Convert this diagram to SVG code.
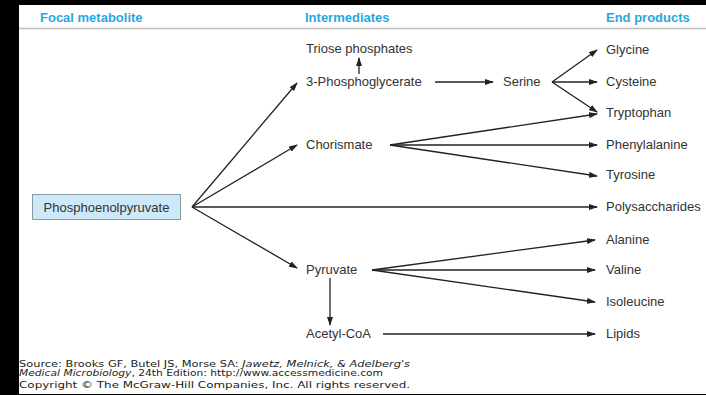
<svg xmlns="http://www.w3.org/2000/svg" width="706" height="395" viewBox="0 0 706 395">
  <style>
    .hdr { font-family: "Liberation Sans", Arial, sans-serif; font-size: 13px; font-weight: bold; fill: #2aa7df; }
    .lbl { font-family: "Liberation Sans", Arial, sans-serif; font-size: 13px; fill: #333; }
    .src { font-family: "DejaVu Sans", Verdana, sans-serif; font-size: 8px; fill: #222; }
    .arr { stroke: #222; stroke-width: 1.3; fill: none; marker-end: url(#head); }
  </style>
  <defs>
    <marker id="head" markerUnits="userSpaceOnUse" markerWidth="9" markerHeight="6" refX="8" refY="3" orient="auto">
      <path d="M0,0 L9,3 L0,6 Z" fill="#222"/>
    </marker>
  </defs>

  <!-- frame -->
  <rect x="0" y="0" width="706" height="395" fill="#000"/>
  <rect x="19" y="5" width="687" height="389" fill="#fff"/>

  <!-- column headings -->
  <g id="headings">
    <text class="hdr" x="40" y="22">Focal metabolite</text>
    <text class="hdr" x="305" y="22">Intermediates</text>
    <text class="hdr" x="606" y="22">End products</text>
    <line x1="19" y1="28.5" x2="706" y2="28.5" stroke="#bdbdbd" stroke-width="1.5"/>
  </g>

  <!-- connectors -->
  <g id="connectors">
    <line class="arr" x1="192" y1="207" x2="297" y2="83"/>
    <line class="arr" x1="192" y1="207" x2="297" y2="145"/>
    <line class="arr" x1="192" y1="207" x2="597" y2="207"/>
    <line class="arr" x1="192" y1="207" x2="297" y2="268"/>
    <line class="arr" x1="359" y1="74" x2="359" y2="58"/>
    <line class="arr" x1="435" y1="82" x2="493" y2="82"/>
    <line class="arr" x1="552" y1="82" x2="597" y2="50"/>
    <line class="arr" x1="552" y1="82" x2="597" y2="82"/>
    <line class="arr" x1="552" y1="82" x2="597" y2="112"/>
    <line class="arr" x1="390" y1="145" x2="597" y2="114"/>
    <line class="arr" x1="390" y1="145" x2="597" y2="145"/>
    <line class="arr" x1="390" y1="145" x2="597" y2="176"/>
    <line class="arr" x1="372" y1="270" x2="595" y2="240"/>
    <line class="arr" x1="372" y1="270" x2="595" y2="270"/>
    <line class="arr" x1="372" y1="270" x2="595" y2="302"/>
    <line class="arr" x1="330" y1="278" x2="330" y2="325"/>
    <line class="arr" x1="383" y1="334" x2="595" y2="334"/>
  </g>

  <!-- focal metabolite -->
  <g id="pep">
    <rect x="32.5" y="194.5" width="148" height="25" fill="#cde9f8" stroke="#8a9aa4" stroke-width="1"/>
    <text class="lbl" x="106.5" y="211.5" text-anchor="middle">Phosphoenolpyruvate</text>
  </g>

  <!-- intermediates -->
  <g id="triose"><text class="lbl" x="306" y="53">Triose phosphates</text></g>
  <g id="pga"><text class="lbl" x="306" y="86">3-Phosphoglycerate</text></g>
  <g id="serine"><text class="lbl" x="503" y="86">Serine</text></g>
  <g id="chorismate"><text class="lbl" x="306" y="149">Chorismate</text></g>
  <g id="pyruvate"><text class="lbl" x="306" y="274">Pyruvate</text></g>
  <g id="acetylcoa"><text class="lbl" x="306" y="338">Acetyl-CoA</text></g>

  <!-- end products -->
  <g id="glycine"><text class="lbl" x="606" y="54">Glycine</text></g>
  <g id="cysteine"><text class="lbl" x="606" y="86">Cysteine</text></g>
  <g id="tryptophan"><text class="lbl" x="606" y="117">Tryptophan</text></g>
  <g id="phenylalanine"><text class="lbl" x="606" y="149">Phenylalanine</text></g>
  <g id="tyrosine"><text class="lbl" x="606" y="179">Tyrosine</text></g>
  <g id="polysaccharides"><text class="lbl" x="606" y="211">Polysaccharides</text></g>
  <g id="alanine"><text class="lbl" x="606" y="244">Alanine</text></g>
  <g id="valine"><text class="lbl" x="606" y="274">Valine</text></g>
  <g id="isoleucine"><text class="lbl" x="606" y="306">Isoleucine</text></g>
  <g id="lipids"><text class="lbl" x="606" y="338">Lipids</text></g>

  <!-- source line -->
  <g id="source">
    <text class="src" x="19" y="367" textLength="391" lengthAdjust="spacingAndGlyphs">Source: Brooks GF, Butel JS, Morse SA: <tspan font-style="italic">Jawetz, Melnick, &amp; Adelberg's</tspan></text>
    <text class="src" x="19" y="375.5" textLength="364" lengthAdjust="spacingAndGlyphs"><tspan font-style="italic">Medical Microbiology</tspan>, 24th Edition: http://www.accessmedicine.com</text>
    <text class="src" x="19" y="388" textLength="391" lengthAdjust="spacingAndGlyphs">Copyright © The McGraw-Hill Companies, Inc. All rights reserved.</text>
  </g>
</svg>
